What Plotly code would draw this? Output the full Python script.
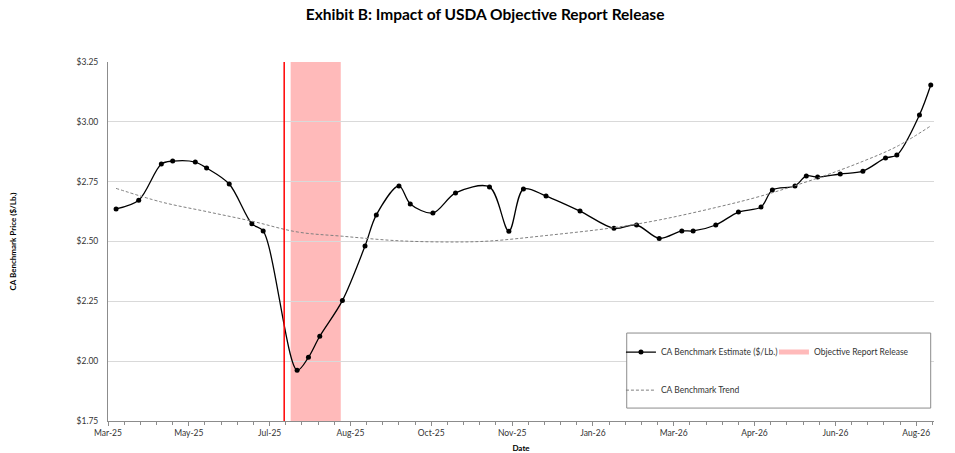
import plotly.graph_objects as go

# Weekly CA benchmark estimates ($/lb) read off the exhibit
price_dates = [
    "2025-03-29", "2025-04-12", "2025-04-26", "2025-05-03", "2025-05-17",
    "2025-05-24", "2025-06-07", "2025-06-21", "2025-06-28", "2025-07-19",
    "2025-07-26", "2025-08-02", "2025-08-16", "2025-08-30", "2025-09-06",
    "2025-09-20", "2025-09-27", "2025-10-11", "2025-10-25", "2025-11-15",
    "2025-11-27", "2025-12-06", "2025-12-20", "2026-01-10", "2026-01-31",
    "2026-02-14", "2026-02-28", "2026-03-14", "2026-03-21", "2026-04-04",
    "2026-04-18", "2026-05-02", "2026-05-09", "2026-05-23", "2026-05-30",
    "2026-06-06", "2026-06-20", "2026-07-04", "2026-07-18", "2026-07-25",
    "2026-08-08", "2026-08-15",
]
price_values = [
    2.636, 2.672, 2.824, 2.836, 2.832,
    2.807, 2.740, 2.574, 2.544, 1.962,
    2.016, 2.104, 2.253, 2.481, 2.611,
    2.732, 2.657, 2.619, 2.703, 2.728,
    2.543, 2.719, 2.690, 2.627, 2.555,
    2.569, 2.513, 2.544, 2.544, 2.569,
    2.623, 2.644, 2.715, 2.732, 2.774,
    2.769, 2.782, 2.794, 2.849, 2.861,
    3.029, 3.154,
]

# trendline (dashed) sampled from the exhibit
trend_dates = [
    "2025-03-29", "2025-04-26", "2025-05-24", "2025-06-21", "2025-07-19",
    "2025-08-16", "2025-09-20", "2025-10-25", "2025-11-15", "2025-12-20",
    "2026-01-31", "2026-02-28", "2026-04-04", "2026-05-02", "2026-06-06",
    "2026-07-04", "2026-07-25", "2026-08-15",
]
trend_values = [
    2.722, 2.665, 2.625, 2.585, 2.540,
    2.522, 2.503, 2.498, 2.502, 2.525,
    2.558, 2.590, 2.642, 2.690, 2.765,
    2.835, 2.897, 2.983,
]

# objective report release date and the window after it
release_date = "2025-07-11"
release_window = ("2025-07-15", "2025-08-15")

# original date axis: major unit 50 days
tick_dates = [
    "2025-03-24", "2025-05-13", "2025-07-02", "2025-08-21", "2025-10-10",
    "2025-11-29", "2026-01-18", "2026-03-09", "2026-04-28", "2026-06-17",
    "2026-08-06",
]
x_range = ["2025-03-24", "2026-08-17"]

FONT = "Lato"
PINK = "rgba(255,110,110,0.48)"
AXIS = "#8c8c8c"
TEXT = "#333333"


def build_figure():
    fig = go.Figure()

    fig.add_trace(go.Scatter(
        x=price_dates, y=price_values,
        mode="lines+markers",
        name="CA Benchmark Estimate ($/Lb.)",
        line=dict(color="black", width=1.3, shape="spline", smoothing=0.9),
        marker=dict(color="black", size=5),
        legend="legend",
    ))
    # legend-only entry for the shaded window
    fig.add_trace(go.Scatter(
        x=[None], y=[None],
        mode="lines",
        name="Objective Report Release",
        line=dict(color=PINK, width=5),
        legend="legend",
    ))
    fig.add_trace(go.Scatter(
        x=trend_dates, y=trend_values,
        mode="lines",
        name="CA Benchmark Trend",
        line=dict(color="#7f7f7f", width=1, dash="3px,2px", shape="spline"),
        legend="legend2",
    ))

    fig.add_shape(type="rect", xref="x", yref="paper",
                  x0=release_window[0], x1=release_window[1], y0=0, y1=1,
                  fillcolor=PINK, line_width=0, layer="between")
    fig.add_shape(type="line", xref="x", yref="paper",
                  x0=release_date, x1=release_date, y0=0, y1=1,
                  line=dict(color="#ff0000", width=1.5), layer="above")

    # legend frame
    fig.add_shape(type="rect", xref="paper", yref="paper",
                  x0=0.628, x1=0.996, y0=0.036, y1=0.245,
                  fillcolor="white", line=dict(color=AXIS, width=1),
                  layer="above")

    fig.update_layout(
        width=955, height=453, autosize=False,
        margin=dict(l=108, r=21, t=62, b=32, autoexpand=False),
        paper_bgcolor="white", plot_bgcolor="white",
        font=dict(family=FONT, size=8, color=TEXT),
        title=dict(
            text="Exhibit B: Impact of USDA Objective Report Release",
            x=0.508, xanchor="center", y=0.968, yanchor="middle",
            font=dict(family=FONT, size=15.5, color="black", weight="bold"),
        ),
        legend=dict(
            orientation="h", x=0.621, xanchor="left", y=0.192, yanchor="middle",
            bgcolor="rgba(0,0,0,0)", borderwidth=0, entrywidth=108,
            font=dict(family=FONT, size=8.5, color=TEXT),
        ),
        legend2=dict(
            orientation="h", x=0.621, xanchor="left", y=0.086, yanchor="middle",
            bgcolor="rgba(0,0,0,0)", borderwidth=0,
            font=dict(family=FONT, size=8.5, color=TEXT),
        ),
    )

    fig.update_xaxes(
        type="date", range=x_range, automargin=False,
        tickvals=tick_dates, tickformat="%b-%y",
        ticks="outside", ticklen=4, tickcolor=AXIS,
        minor=dict(ticks="outside", ticklen=3, tickcolor=AXIS,
                   tick0=x_range[0], dtick=10 * 86400000, showgrid=False),
        showline=True, linecolor=AXIS, linewidth=1,
        showgrid=False, zeroline=False,
        tickfont=dict(size=8.5, color=TEXT),
        title=dict(text="Date", standoff=9,
                   font=dict(size=8, color="black", weight="bold")),
    )
    fig.update_yaxes(
        range=[1.75, 3.25], dtick=0.25, tickformat="$.2f", automargin=False,
        showline=True, linecolor=AXIS, linewidth=1,
        showgrid=True, gridcolor="#d9d9d9", gridwidth=1, zeroline=False,
        ticks="", ticklabelstandoff=7, tickfont=dict(size=8.5, color=TEXT),
        title=dict(text="CA Benchmark Price ($/Lb.)", standoff=58,
                   font=dict(size=8, color="black", weight="bold")),
    )
    return fig


if __name__ == "__main__":
    fig = build_figure()
    # drop the default page margin so the chart sits at the window origin
    fig.write_html("out.html", config={"displayModeBar": False},
                   post_script="document.body.style.margin='0px';")
